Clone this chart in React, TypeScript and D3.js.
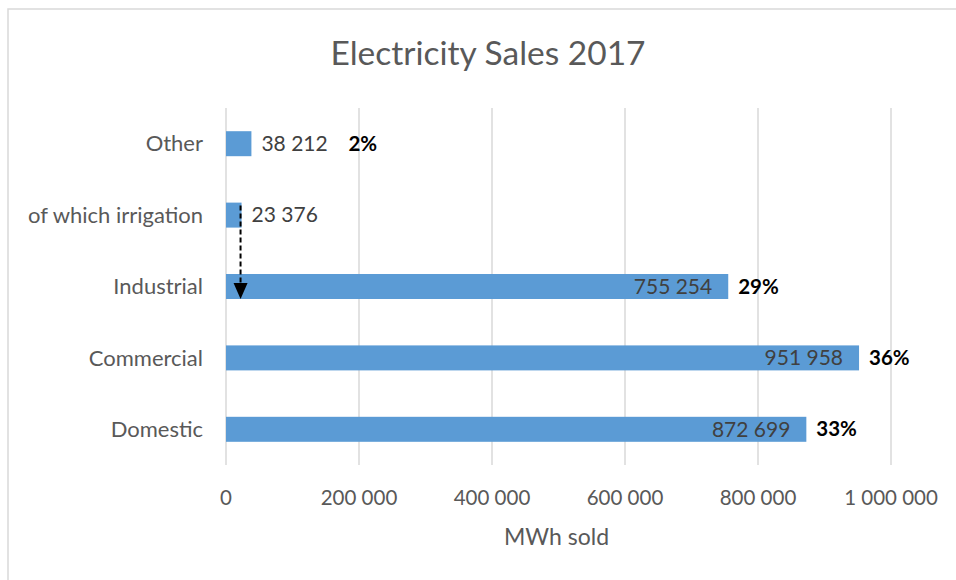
import React, { useRef, useEffect } from "react";
import * as d3 from "d3";

const categories = ["Other", "of which irrigation", "Industrial", "Commercial", "Domestic"];
const sales = [38212, 23376, 755254, 951958, 872699];
const shares = ["2%", "", "29%", "36%", "33%"];
const ticks = [0, 200000, 400000, 600000, 800000, 1000000];

const width = 956;
const height = 580;
const font = "Lato, Carlito, Calibri, sans-serif";

const fmt = (v: number) => d3.format(",")(v).replace(/,/g, " ");

const App = () => {
  const ref = useRef<SVGSVGElement>(null);

  useEffect(() => {
    const svg = d3.select(ref.current);
    svg.selectAll("*").remove();

    const x = d3.scaleLinear().domain([0, 1000000]).range([226, 891]);
    const y = d3.scaleBand().domain(categories).range([108, 465]).paddingInner(0.65).paddingOuter(0.325);

    // chart frame (only left and top edges fall inside the picture)
    svg.append("rect")
      .attr("x", 8).attr("y", 9)
      .attr("width", width + 20).attr("height", height + 20)
      .attr("fill", "#fff").attr("stroke", "#d9d9d9").attr("stroke-width", 1.5);

    svg.append("text")
      .attr("x", 488).attr("y", 65)
      .attr("text-anchor", "middle")
      .style("font-family", font).style("font-size", "33.5px")
      .attr("fill", "#595959")
      .text("Electricity Sales 2017");

    svg.selectAll("line.grid")
      .data(ticks)
      .enter()
      .append("line")
      .attr("x1", (d) => x(d)).attr("x2", (d) => x(d))
      .attr("y1", 108).attr("y2", 465)
      .attr("stroke", "#d9d9d9").attr("stroke-width", 1.5);

    svg.selectAll("text.tick")
      .data(ticks)
      .enter()
      .append("text")
      .attr("x", (d) => x(d)).attr("y", 505)
      .attr("text-anchor", "middle")
      .style("font-family", font).style("font-size", "20.5px")
      .attr("fill", "#595959")
      .text((d) => fmt(d));

    svg.append("text")
      .attr("x", x(500000) - 2).attr("y", 545)
      .attr("text-anchor", "middle")
      .style("font-family", font).style("font-size", "23px")
      .attr("fill", "#595959")
      .text("MWh sold");

    svg.selectAll("text.cat")
      .data(categories)
      .enter()
      .append("text")
      .attr("x", 203).attr("y", (d) => y(d)! + y.bandwidth() / 2)
      .attr("dy", "0.35em")
      .attr("text-anchor", "end")
      .style("font-family", font).style("font-size", "22px")
      .attr("fill", "#595959")
      .text((d) => d);

    const rows = categories.map((c, i) => ({ c, v: sales[i], s: shares[i] }));

    svg.selectAll("rect.bar")
      .data(rows)
      .enter()
      .append("rect")
      .attr("x", x(0)).attr("y", (d) => y(d.c)!)
      .attr("width", (d) => x(d.v) - x(0))
      .attr("height", y.bandwidth())
      .attr("fill", "#5b9bd5");

    // value labels: outside for small bars, inside end for large ones
    svg.selectAll("text.val")
      .data(rows)
      .enter()
      .append("text")
      .attr("x", (d) => (d.v < 100000 ? x(d.v) + 10 : x(d.v) - 16))
      .attr("y", (d) => y(d.c)! + y.bandwidth() / 2)
      .attr("dy", "0.35em")
      .attr("text-anchor", (d) => (d.v < 100000 ? "start" : "end"))
      .style("font-family", font).style("font-size", "21px")
      .attr("fill", "#404040")
      .text((d) => fmt(d.v));

    svg.selectAll("text.pct")
      .data(rows.filter((d) => d.s))
      .enter()
      .append("text")
      .attr("x", (d) => (d.v < 100000 ? x(d.v) + 97 : x(d.v) + 10))
      .attr("y", (d) => y(d.c)! + y.bandwidth() / 2)
      .attr("dy", "0.35em")
      .style("font-family", font).style("font-size", "20.5px").style("font-weight", "bold")
      .attr("fill", "#000")
      .text((d) => d.s);

    // dashed arrow from irrigation down into industrial
    const ax = x(sales[1]) - 1;
    const y0 = y(categories[1])! + 3;
    const y1 = y(categories[2])! + y.bandwidth();
    svg.append("line")
      .attr("x1", ax).attr("x2", ax)
      .attr("y1", y0).attr("y2", y1 - 14)
      .attr("stroke", "#000").attr("stroke-width", 2).attr("stroke-dasharray", "5,3");
    svg.append("path")
      .attr("d", `M${ax - 7},${y1 - 16}L${ax + 7},${y1 - 16}L${ax},${y1}Z`)
      .attr("fill", "#000");
  }, []);

  return (
    <svg ref={ref} width={width} height={height} style={{ position: "absolute", left: 0, top: 0, display: "block" }} />
  );
};

export default App;
